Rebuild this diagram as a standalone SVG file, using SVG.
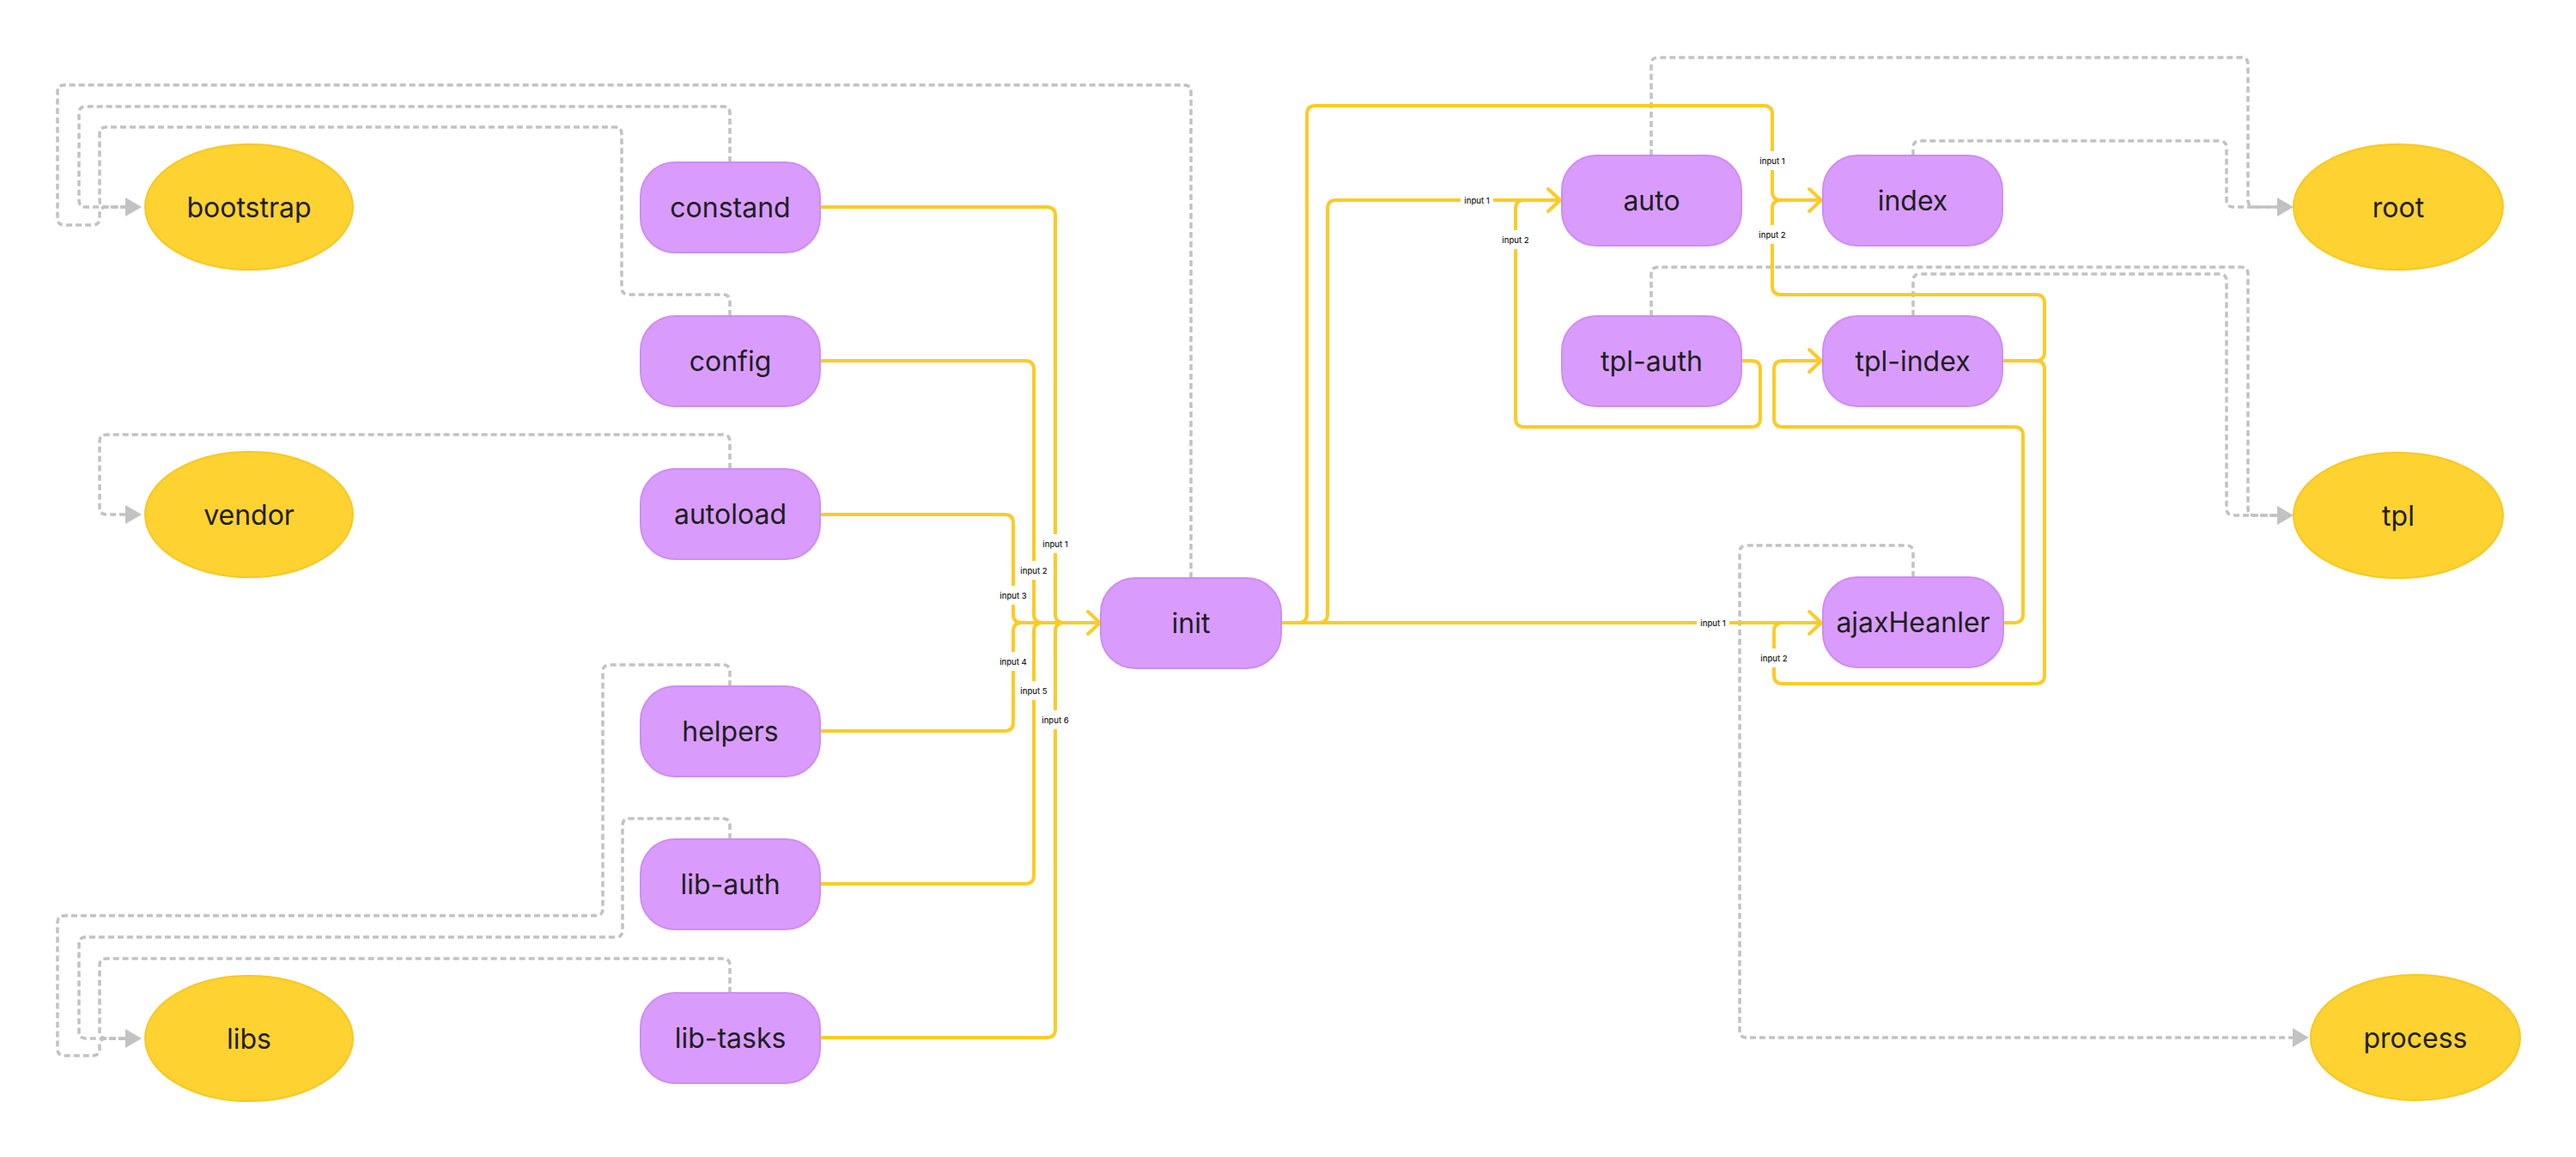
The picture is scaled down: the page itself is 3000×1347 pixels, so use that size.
<svg xmlns="http://www.w3.org/2000/svg" width="3000" height="1347" viewBox="0 0 3000 1347">
<style>
.bg{fill:#ffffff}
.proc rect{fill:#d99cfc;stroke:#cf8cf4;stroke-width:2}
.term ellipse{fill:#fdd231;stroke:#f7c823;stroke-width:2}
.nt{font-family:Inter,"Noto Sans","Liberation Sans",sans-serif;font-size:32px;fill:#1e1e22;text-anchor:middle;dominant-baseline:central}
.y{fill:none;stroke:#fccb25;stroke-width:4;stroke-linejoin:round}
.ya{fill:none;stroke:#fccb25;stroke-width:4;stroke-linecap:round;stroke-linejoin:round}
.g{fill:none;stroke:#c2c2c2;stroke-width:3.5;stroke-dasharray:7 4}
.gt{fill:#c2c2c2}
.lb rect{fill:#ffffff}
.lb text{font-family:Inter,"Noto Sans","Liberation Sans",sans-serif;font-size:9.5px;font-weight:500;fill:#1e1e22;text-anchor:middle;dominant-baseline:central}
</style>
<rect class="bg" x="0" y="0" width="3000" height="1347"/>
<g id="connectors">
  <!-- dependency (gray dashed) -->
  <path class="g" d="M1387,673 V107 Q1387,99 1379,99 H75 Q67,99 67,107 V254 Q67,262 75,262 H108 Q116,262 116,254 V249 Q116,241 124,241 H146"/>
  <path class="g" d="M850,189 V132 Q850,124 842,124 H100 Q92,124 92,132 V233 Q92,241 100,241 H146"/>
  <path class="g" d="M850,368 V351 Q850,343 842,343 H732 Q724,343 724,335 V156 Q724,148 716,148 H124 Q116,148 116,156 V233 Q116,241 124,241 H146"/>
  <path class="gt" d="M146,230 L165,241 L146,252 Z"/>
  <path class="g" d="M850,546 V514 Q850,506 842,506 H124 Q116,506 116,514 V591 Q116,599 124,599 H146"/>
  <path class="gt" d="M146,588 L165,599 L146,610 Z"/>
  <path class="g" d="M850,799 V782 Q850,774 842,774 H710 Q702,774 702,782 V1058 Q702,1066 694,1066 H75 Q67,1066 67,1074 V1221 Q67,1229 75,1229 H108 Q116,1229 116,1221 V1217 Q116,1209 124,1209 H146"/>
  <path class="g" d="M850,977 V961 Q850,953 842,953 H733 Q725,953 725,961 V1083 Q725,1091 717,1091 H100 Q92,1091 92,1099 V1201 Q92,1209 100,1209 H146"/>
  <path class="g" d="M850,1156 V1124 Q850,1116 842,1116 H124 Q116,1116 116,1124 V1201 Q116,1209 124,1209 H146"/>
  <path class="gt" d="M146,1198 L165,1209 L146,1220 Z"/>
  <path class="g" d="M1923,181 V75 Q1923,67 1931,67 H2610 Q2618,67 2618,75 V233 Q2618,241 2626,241 H2652"/>
  <path class="g" d="M2228,181 V172 Q2228,164 2236,164 H2585 Q2593,164 2593,172 V233 Q2593,241 2601,241 H2652"/>
  <path class="gt" d="M2652,230 L2671,241 L2652,252 Z"/>
  <path class="g" d="M1923,368 V319 Q1923,311 1931,311 H2610 Q2618,311 2618,319 V592 Q2618,600 2626,600 H2652"/>
  <path class="g" d="M2228,368 V327 Q2228,319 2236,319 H2585 Q2593,319 2593,327 V592 Q2593,600 2601,600 H2652"/>
  <path class="gt" d="M2652,589 L2671,600 L2652,611 Z"/>
  <path class="g" d="M2228,672 V643 Q2228,635 2220,635 H2034 Q2026,635 2026,643 V1200 Q2026,1208 2034,1208 H2670"/>
  <path class="gt" d="M2670,1197 L2689,1208 L2670,1219 Z"/>

  <!-- data flow (yellow) -->
  <path class="y" d="M955,241 H1219 Q1229,241 1229,251 V715 Q1229,725 1239,725 H1281"/>
  <path class="y" d="M955,420 H1194 Q1204,420 1204,430 V715 Q1204,725 1214,725 H1281"/>
  <path class="y" d="M955,599 H1170 Q1180,599 1180,609 V715 Q1180,725 1190,725 H1281"/>
  <path class="y" d="M955,851 H1170 Q1180,851 1180,841 V735 Q1180,725 1190,725 H1281"/>
  <path class="y" d="M955,1029 H1194 Q1204,1029 1204,1019 V735 Q1204,725 1214,725 H1281"/>
  <path class="y" d="M955,1208 H1219 Q1229,1208 1229,1198 V735 Q1229,725 1239,725 H1281"/>
  <path class="ya" d="M1267,712 L1281,725 L1267,738"/>

  <path class="y" d="M1492,725 H1536 Q1546,725 1546,715 V243 Q1546,233 1556,233 H1817"/>
  <path class="y" d="M2028,420 H2040 Q2050,420 2050,430 V487 Q2050,497 2040,497 H1775 Q1765,497 1765,487 V243 Q1765,233 1775,233 H1817"/>
  <path class="ya" d="M1803,220 L1817,233 L1803,246"/>

  <path class="y" d="M1492,725 H1512 Q1522,725 1522,715 V133 Q1522,123 1532,123 H2054 Q2064,123 2064,133 V223 Q2064,233 2074,233 H2121"/>
  <path class="y" d="M2332,420 H2371 Q2381,420 2381,410 V353 Q2381,343 2371,343 H2074 Q2064,343 2064,333 V243 Q2064,233 2074,233 H2121"/>
  <path class="ya" d="M2107,220 L2121,233 L2107,246"/>

  <path class="y" d="M2333,725 H2346 Q2356,725 2356,715 V507 Q2356,497 2346,497 H2076 Q2066,497 2066,487 V430 Q2066,420 2076,420 H2121"/>
  <path class="ya" d="M2107,407 L2121,420 L2107,433"/>

  <path class="y" d="M1492,725 H2121"/>
  <path class="y" d="M2332,420 H2371 Q2381,420 2381,430 V786 Q2381,796 2371,796 H2076 Q2066,796 2066,786 V735 Q2066,725 2076,725 H2121"/>
  <path class="ya" d="M2107,712 L2121,725 L2107,738"/>

  <!-- labels -->
  <g class="lb">
    <rect x="1210" y="622" width="38" height="22"/><text x="1229" y="633">input 1</text>
    <rect x="1185" y="653" width="38" height="22"/><text x="1204" y="664">input 2</text>
    <rect x="1161" y="682" width="38" height="22"/><text x="1180" y="693">input 3</text>
    <rect x="1161" y="759" width="38" height="22"/><text x="1180" y="770">input 4</text>
    <rect x="1185" y="793" width="38" height="22"/><text x="1204" y="804">input 5</text>
    <rect x="1210" y="827" width="38" height="22"/><text x="1229" y="838">input 6</text>
    <rect x="1701" y="224" width="38" height="18"/><text x="1720" y="233">input 1</text>
    <rect x="1746" y="268" width="38" height="22"/><text x="1765" y="279">input 2</text>
    <rect x="2045" y="176" width="38" height="22"/><text x="2064" y="187">input 1</text>
    <rect x="2045" y="262" width="38" height="22"/><text x="2064" y="273">input 2</text>
    <rect x="1976" y="716" width="38" height="18"/><text x="1995" y="725">input 1</text>
    <rect x="2047" y="755" width="38" height="22"/><text x="2066" y="766">input 2</text>
  </g>
</g>

<g id="node-bootstrap" class="term"><ellipse cx="290" cy="241" rx="121" ry="73"/><text class="nt" x="290" y="241">bootstrap</text></g>
<g id="node-vendor" class="term"><ellipse cx="290" cy="599" rx="121" ry="73"/><text class="nt" x="290" y="599">vendor</text></g>
<g id="node-libs" class="term"><ellipse cx="290" cy="1209" rx="121" ry="73"/><text class="nt" x="290" y="1209">libs</text></g>
<g id="node-root" class="term"><ellipse cx="2793" cy="241" rx="122" ry="73"/><text class="nt" x="2793" y="241">root</text></g>
<g id="node-tpl" class="term"><ellipse cx="2793" cy="600" rx="122" ry="73"/><text class="nt" x="2793" y="600">tpl</text></g>
<g id="node-process" class="term"><ellipse cx="2813" cy="1208" rx="122" ry="73"/><text class="nt" x="2813" y="1208">process</text></g>

<g id="node-constand" class="proc"><rect x="746" y="189" width="209" height="105" rx="40"/><text class="nt" x="850.5" y="241.5">constand</text></g>
<g id="node-config" class="proc"><rect x="746" y="368" width="209" height="105" rx="40"/><text class="nt" x="850.5" y="420.5">config</text></g>
<g id="node-autoload" class="proc"><rect x="746" y="546" width="209" height="105" rx="40"/><text class="nt" x="850.5" y="598.5">autoload</text></g>
<g id="node-helpers" class="proc"><rect x="746" y="799" width="209" height="105" rx="40"/><text class="nt" x="850.5" y="851.5">helpers</text></g>
<g id="node-lib-auth" class="proc"><rect x="746" y="977" width="209" height="105" rx="40"/><text class="nt" x="850.5" y="1029.5">lib-auth</text></g>
<g id="node-lib-tasks" class="proc"><rect x="746" y="1156" width="209" height="105" rx="40"/><text class="nt" x="850.5" y="1208.5">lib-tasks</text></g>
<g id="node-init" class="proc"><rect x="1282" y="673" width="210" height="105" rx="40"/><text class="nt" x="1387" y="725.5">init</text></g>
<g id="node-auto" class="proc"><rect x="1819" y="181" width="209" height="105" rx="40"/><text class="nt" x="1923.5" y="233.5">auto</text></g>
<g id="node-index" class="proc"><rect x="2123" y="181" width="209" height="105" rx="40"/><text class="nt" x="2227.5" y="233.5">index</text></g>
<g id="node-tpl-auth" class="proc"><rect x="1819" y="368" width="209" height="105" rx="40"/><text class="nt" x="1923.5" y="420.5">tpl-auth</text></g>
<g id="node-tpl-index" class="proc"><rect x="2123" y="368" width="209" height="105" rx="40"/><text class="nt" x="2227.5" y="420.5">tpl-index</text></g>
<g id="node-ajaxHeanler" class="proc"><rect x="2123" y="672" width="210" height="105" rx="40"/><text class="nt" x="2228" y="724.5">ajaxHeanler</text></g>
</svg>
